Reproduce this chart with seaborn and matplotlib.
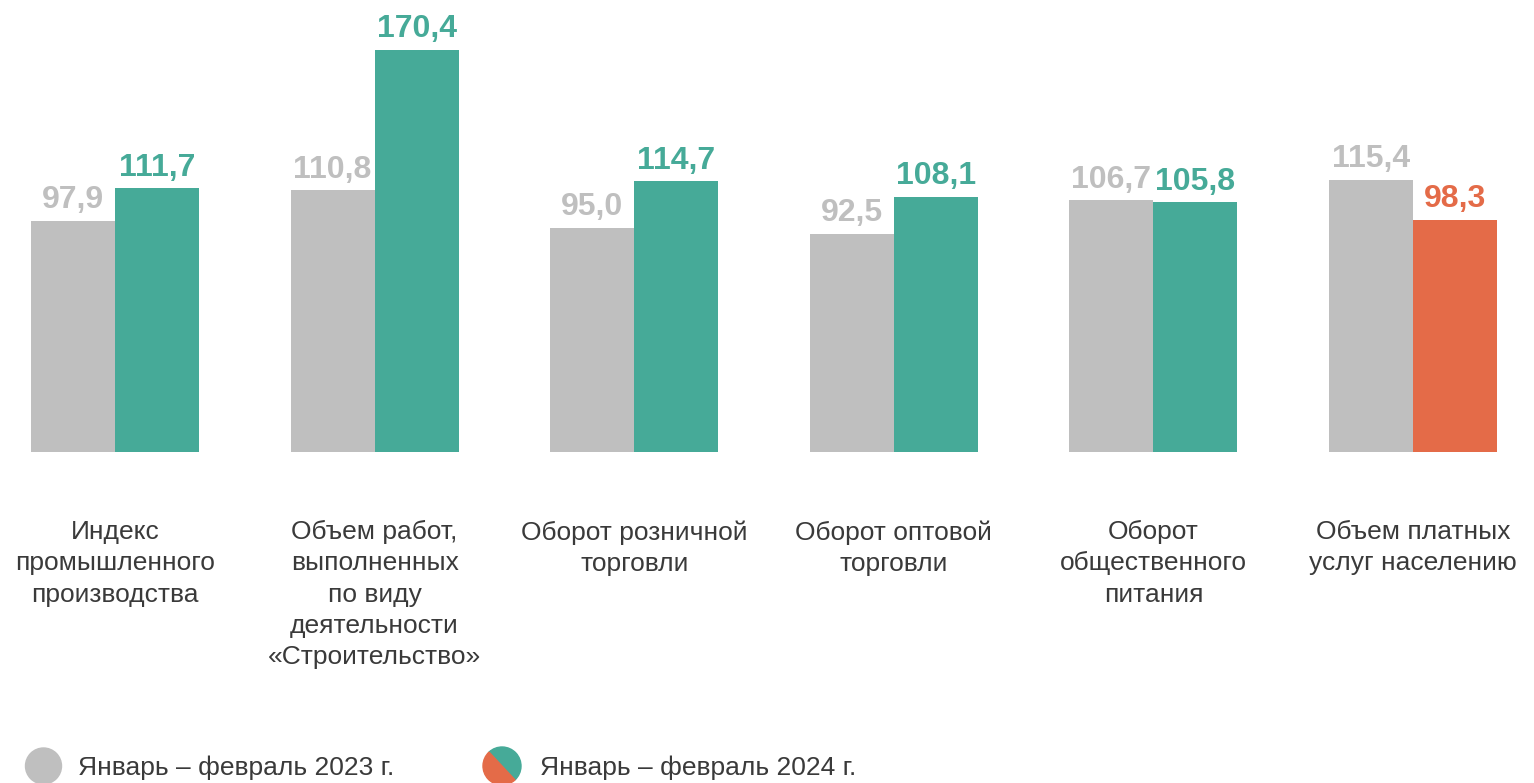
import seaborn as sns
import matplotlib.pyplot as plt
import pandas as pd
from matplotlib.patches import Circle, Wedge
from matplotlib.transforms import offset_copy

categories = [
    'Индекс\nпромышленного\nпроизводства',
    'Объем работ,\nвыполненных\nпо виду\nдеятельности\n«Строительство»',
    'Оборот розничной\nторговли',
    'Оборот оптовой\nторговли',
    'Оборот\nобщественного\nпитания',
    'Объем платных\nуслуг населению',
]
periods = ['Январь – февраль 2023 г.', 'Январь – февраль 2024 г.']
values_2023 = [97.9, 110.8, 95.0, 92.5, 106.7, 115.4]
values_2024 = [111.7, 170.4, 114.7, 108.1, 105.8, 98.3]

grey = '#BFBFBF'
teal = '#46AA98'
red = '#E46B48'
text_col = '#3a3a3a'

sns.set_style('white')
plt.rcParams['font.family'] = ['Liberation Sans', 'DejaVu Sans']

df = pd.DataFrame({
    'category': categories * 2,
    'period': [periods[0]] * 6 + [periods[1]] * 6,
    'value': values_2023 + values_2024,
})

fig = plt.figure(figsize=(15.34, 7.83), dpi=100)
ax = fig.add_axes([0, 0.4227, 1, 0.5773])
sns.barplot(data=df, x='category', y='value', hue='period',
            palette=[grey, teal], width=0.647, legend=False, ax=ax,
            saturation=1, linewidth=0)

# last 2024 bar is a decline -> red
ax.containers[1][5].set_facecolor(red)

ax.set_xlim(-0.443, 5.466)
ax.set_ylim(0, 191.5)
for s in ax.spines.values():
    s.set_visible(False)
ax.set_yticks([])
ax.set_xlabel('')
ax.set_ylabel('')
ax.tick_params(axis='x', length=0, pad=49, labelsize=19, labelcolor=text_col)
for lbl in ax.get_xticklabels():
    lbl.set_linespacing(1.38)

fmt = lambda v: f'{v:.1f}'.replace('.', ',')
t = ax.bar_label(ax.containers[0], labels=[fmt(v) for v in values_2023],
                 padding=4, fontsize=23, fontweight='bold', color=grey)
t2 = ax.bar_label(ax.containers[1], labels=[fmt(v) for v in values_2024],
                  padding=4, fontsize=23, fontweight='bold', color=teal)
t2[5].set_color(red)
# first two grey labels sit a bit left of their bars
for lab in t[:2]:
    lab.set_transform(offset_copy(lab.get_transform(), fig=fig, x=-16, units='dots'))

# legend (overlay in pixel coords, y pointing down)
lax = fig.add_axes([0, 0, 1, 1])
lax.set_xlim(0, 1534)
lax.set_ylim(783, 0)
lax.axis('off')
lax.add_patch(Circle((43.5, 766), 18, color=grey))
lax.add_patch(Wedge((502, 766), 19, -133, 47, color=teal))
lax.add_patch(Wedge((502, 766), 19, 47, 227, color=red))
lax.text(78, 768, periods[0], fontsize=19, color=text_col, va='center')
lax.text(540, 768, periods[1], fontsize=19, color=text_col, va='center')

fig.savefig('out.png', dpi=100)
